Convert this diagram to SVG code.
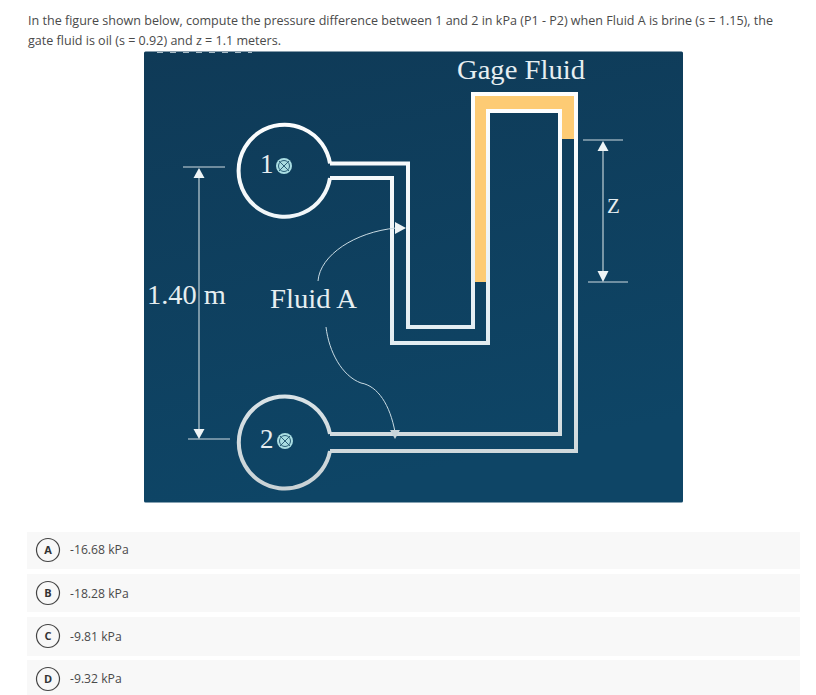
<svg xmlns="http://www.w3.org/2000/svg" width="816" height="695" viewBox="0 0 816 695">
<style>
.q{font-family:"Open Sans","Liberation Sans",sans-serif;font-size:12.2px;fill:#4a4a4a}
.s{font-family:"Liberation Serif",serif;fill:#e6eef1}
.pipe{fill:none;stroke:url(#pg);stroke-width:4;stroke-linejoin:miter}
.dim{fill:none;stroke:#d0dce1;stroke-width:1.1}
.thin{fill:none;stroke:#c9dbe3;stroke-width:1}
.head{fill:#eef4f6}
.row{fill:#f8f8f8}
.badge{fill:none;stroke:#444;stroke-width:1.2}
.bl{font-family:"Open Sans","Liberation Sans",sans-serif;font-size:11px;font-weight:700;fill:#333;text-anchor:middle}
.cross{fill:#a9dde2}
.x{stroke:#2b5f78;stroke-width:1;fill:none}
</style>
<defs>
<linearGradient id="bg" x1="0" y1="0" x2="0.25" y2="1"><stop offset="0" stop-color="#0f3a57"/><stop offset="1" stop-color="#0e4566"/></linearGradient>
<linearGradient id="pg" gradientUnits="userSpaceOnUse" x1="0" y1="90" x2="0" y2="490"><stop offset="0" stop-color="#ffffff"/><stop offset="0.6" stop-color="#e4eef3"/><stop offset="1" stop-color="#c9d2d5"/></linearGradient>
</defs>
<rect width="816" height="695" fill="#fff"/>
<g id="question">
<text class="q" x="28" y="25" textLength="745" lengthAdjust="spacingAndGlyphs">In the figure shown below, compute the pressure difference between 1 and 2 in kPa (P1 - P2) when Fluid A is brine (s = 1.15), the</text>
<text class="q" x="28" y="45" textLength="253" lengthAdjust="spacingAndGlyphs">gate fluid is oil (s = 0.92) and z = 1.1 meters.</text>
</g>
<g id="panel">
<rect x="144" y="51.5" width="539" height="451" rx="1.5" fill="url(#bg)"/>
<path d="M157 52.500H252" stroke="#a9bcc7" stroke-width="1.2" stroke-dasharray="6 7" fill="none"/>
</g>
<g id="gage-fluid">
<path d="M475 282V96H574V139H562V109H487V282Z" fill="#fdcb74"/>
<text class="s" x="457" y="79" font-size="28" textLength="128" lengthAdjust="spacingAndGlyphs">Gage Fluid</text>
</g>
<g id="connectors">
<path class="pipe" d="M330 163.500H408V327H473V282V94H576V451H330"/>
<path class="pipe" d="M330 178H392V343H488V111H560V434H330"/>
<path class="thin" d="M318 281C320 255 355 232 396 228"/>
<path class="head" d="M395 222L406 228L395 234Z"/>
<path class="thin" d="M326 327C329 352 342 376 361 383C378 386 390 405 395 432"/>
<path d="M390 430H400L395 439Z" fill="#c8d5da"/>
<path class="dim" d="M183 167H225M199 170V430M188 439H230"/>
<path class="head" d="M199 168L204.500 178H193.500Z"/>
<path class="head" d="M193.500 429H204.500L199 439Z"/>
<path class="dim" d="M583 140H623M603 145V276M588 282H628"/>
<path class="head" d="M603 141L608.500 151H597.500Z"/>
<path class="head" d="M597.500 271H608.500L603 282Z"/>
</g>
<g id="node-1">
<path class="pipe" d="M330 163.500A46 46 0 1 0 330 178"/>
<text class="s" x="260" y="173" font-size="27">1</text>
<circle class="cross" cx="284" cy="166" r="8"/>
<path class="x" d="M279 161L289 171M289 161L279 171"/>
<circle cx="284" cy="166" r="5.500" class="x"/>
</g>
<g id="node-2">
<path class="pipe" d="M330 434A46 46 0 1 0 330 451"/>
<text class="s" x="260" y="448" font-size="27">2</text>
<circle class="cross" cx="285" cy="441" r="8"/>
<path class="x" d="M280 436L290 446M290 436L280 446"/>
<circle cx="285" cy="441" r="5.500" class="x"/>
</g>
<g id="labels">
<text class="s" x="147" y="304" font-size="27" textLength="79" lengthAdjust="spacingAndGlyphs">1.40 m</text>
<text class="s" x="270" y="307.500" font-size="27" textLength="87" lengthAdjust="spacingAndGlyphs">Fluid A</text>
<text class="s" x="607" y="213" font-size="21">Z</text>
</g>
<g id="option-a">
<rect class="row" x="27" y="532" width="773" height="37"/>
<circle class="badge" cx="48" cy="550" r="11.500"/>
<text class="bl" x="48" y="554">A</text>
<text class="q" x="70" y="554">-16.68 kPa</text>
</g>
<g id="option-b">
<rect class="row" x="27" y="574" width="773" height="38"/>
<circle class="badge" cx="48" cy="593" r="11.500"/>
<text class="bl" x="48" y="597">B</text>
<text class="q" x="70" y="598">-18.28 kPa</text>
</g>
<g id="option-c">
<rect class="row" x="27" y="617" width="773" height="39"/>
<circle class="badge" cx="48" cy="636" r="11.500"/>
<text class="bl" x="48" y="640">C</text>
<text class="q" x="70" y="641">-9.81 kPa</text>
</g>
<g id="option-d">
<rect class="row" x="27" y="660" width="773" height="35"/>
<circle class="badge" cx="48" cy="679" r="11.500"/>
<text class="bl" x="48" y="683">D</text>
<text class="q" x="70" y="683">-9.32 kPa</text>
</g>
</svg>
